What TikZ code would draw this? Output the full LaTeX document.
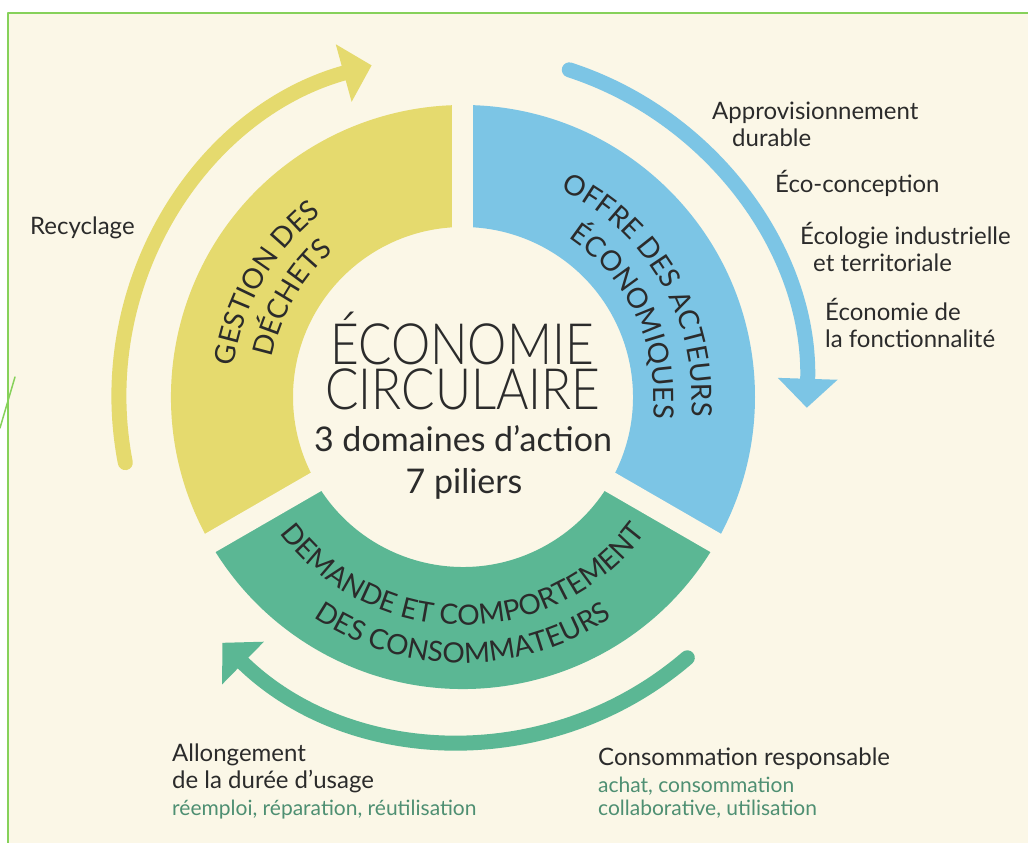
\documentclass[tikz,border=0pt]{standalone}
\usepackage{fontspec}
\setmainfont{Lato}
\newfontfamily\lightfont{Lato}[UprightFont=* Light]
\usetikzlibrary{arrows.meta,decorations.text}
\definecolor{fond}{HTML}{FBF7E7}
\definecolor{cadre}{HTML}{86D15A}
\definecolor{jaune}{HTML}{E5DA6E}
\definecolor{bleu}{HTML}{7CC5E5}
\definecolor{vert}{HTML}{5BB794}
\definecolor{encre}{HTML}{2B2B2B}
\definecolor{vertfonce}{HTML}{4E8F72}
\newcommand\anneaufont{\fontsize{28}{28}\selectfont}
\newcommand\detail[1]{{\color{vertfonce}\fontsize{21}{27}\selectfont #1}}
\newcommand\serre[1]{\scalebox{0.87}[1]{#1}}
\begin{document}
\begin{tikzpicture}[x=1pt,y=1pt,line join=round,line cap=round,
	txt/.style={font=\fontsize{24}{27}\selectfont,text=encre,inner sep=0pt,anchor=base west,align=left},
	titre/.style={font=\lightfont\fontsize{57}{57}\selectfont,text=encre,inner sep=0pt,anchor=base},
	soustitre/.style={font=\fontsize{34}{34}\selectfont,text=encre,inner sep=0pt,anchor=base},
	fleche/.style={line width=15pt,-{Triangle[length=29pt,width=58pt]}},
	anneau/.style={decorate,decoration={text along path,text align=center,text color=encre,text={#1}}}]
	\def\ri{170} \def\ro{292} \def\rf{344} % rayons
	\useasboundingbox (-463,-446) rectangle (565,397);
	\fill[white] (-463,-446) rectangle (565,397);
	\fill[fond] (-455,-446) rectangle (565,384);
	\draw[cadre,line width=2.5pt,line cap=butt] (-455,-446) -- (-455,384) -- (565,384);
	\draw[cadre,line width=1.5pt] (-463,-31) -- (-448,20);
	% les trois domaines
	\fill[jaune] (90:\ri) arc[start angle=90,end angle=210,radius=\ri] -- (210:\ro) arc[start angle=210,end angle=90,radius=\ro] -- cycle;
	\fill[bleu] (-30:\ri) arc[start angle=-30,end angle=90,radius=\ri] -- (90:\ro) arc[start angle=90,end angle=-30,radius=\ro] -- cycle;
	\fill[vert] (210:\ri) arc[start angle=210,end angle=330,radius=\ri] -- (330:\ro) arc[start angle=330,end angle=210,radius=\ro] -- cycle;
	\foreach \a in {90,210,330}
		\draw[fond,line width=21pt,line cap=butt] (0,0) -- (\a:300);
	\path[anneau={|\anneaufont|GESTION DES}] (200:231) arc[start angle=200,end angle=100,radius=231];
	\path[anneau={|\anneaufont|DÉCHETS}] (200:195) arc[start angle=200,end angle=100,radius=195];
	\path[anneau={|\anneaufont|OFFRE DES ACTEURS}] (80:229) arc[start angle=80,end angle=-20,radius=229];
	\path[anneau={|\anneaufont|ÉCONOMIQUES}] (75:191) arc[start angle=75,end angle=-25,radius=191];
	\path[anneau={|\anneaufont|DEMANDE ET COMPORTEMENT}] (200:228) arc[start angle=200,end angle=340,radius=228];
	\path[anneau={|\anneaufont|DES CONSOMMATEURS}] (200:266) arc[start angle=200,end angle=340,radius=266];
	% fleches
	\draw[fleche,jaune] (191:\rf) arc[start angle=191,end angle=105.4,radius=\rf];
	\draw[fleche,bleu] (72:\rf) arc[start angle=72,end angle=-1.8,radius=\rf];
	\draw[fleche,vert] (-49.3:\rf) arc[start angle=-49.3,end angle=-134.4,radius=\rf];
	% centre
	\node[titre] (eco) at (-1,32) {\serre{ÉCONOMIE}};
	\node[titre] (circ) at (0,-13) {\serre{CIRCULAIRE}};
	\node[soustitre] (dom) at (0,-55) {3 domaines d’action};
	\node[soustitre] (pil) at (1,-96) {7 piliers};
	% piliers
	\node[txt] (recyc) at (-433,162) {Recyclage};
	\node[txt] (appro) at (249,250) {Approvisionnement\\\hspace*{20pt}durable};
	\node[txt] (conc) at (312,204) {Éco-conception};
	\node[txt] (ecolo) at (337,125) {Écologie industrielle\\\hspace*{13pt}et territoriale};
	\node[txt] (fonct) at (362,49) {Économie de\\la fonctionnalité};
	\node[txt] (allong) at (-291,-418) {Allongement\\de la durée d’usage\\\detail{réemploi, réparation, réutilisation}};
	\node[txt] (conso) at (135,-418) {Consommation responsable\\\detail{achat, consommation}\\[-4pt]\detail{collaborative, utilisation}};
\end{tikzpicture}
\end{document}
